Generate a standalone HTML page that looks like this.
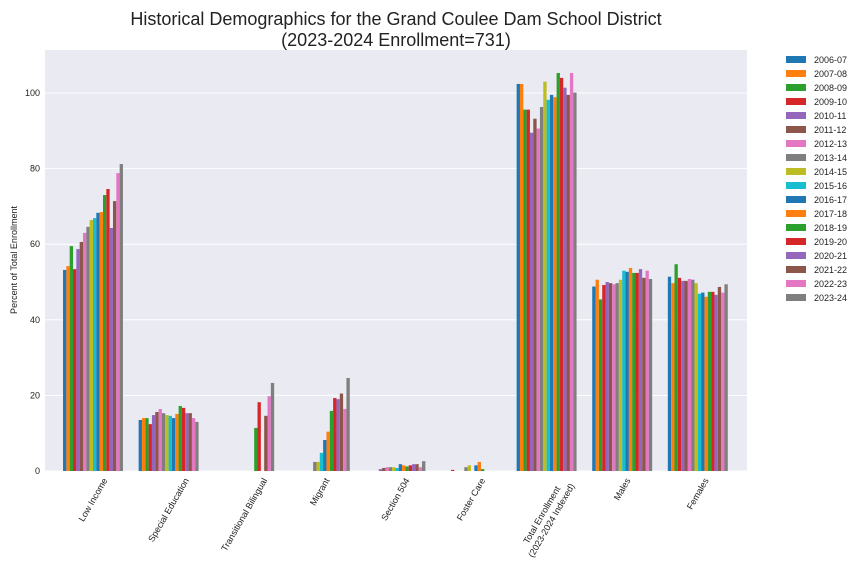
<!DOCTYPE html>
<html><head><meta charset="utf-8"><style>
body{margin:0;background:#fff;}
svg{display:block;font-family:"Liberation Sans",sans-serif;}
</style></head><body>
<svg id="chart" width="864" height="576" viewBox="0 0 864 576" xmlns="http://www.w3.org/2000/svg">
<text x="396" y="25" font-size="18" text-anchor="middle" fill="#222">Historical Demographics for the Grand Coulee Dam School District</text>
<text x="396" y="46" font-size="18" text-anchor="middle" fill="#222">(2023-2024 Enrollment=731)</text>
<rect x="45" y="50" width="702" height="421" fill="#eaeaf2"/>
<g id="grid"></g><g id="bars"></g><g id="xlabels"></g><g id="legend"></g>
<text transform="translate(17,260) rotate(-90)" font-size="9" text-anchor="middle" fill="#222">Percent of Total Enrollment</text>
</svg>
<script>
const categories=["Low Income","Special Education","Transitional Bilingual","Migrant","Section 504","Foster Care","Total Enrollment|(2023-2024 Indexed)","Males","Females"];
const years=["2006-07","2007-08","2008-09","2009-10","2010-11","2011-12","2012-13","2013-14","2014-15","2015-16","2016-17","2017-18","2018-19","2019-20","2020-21","2021-22","2022-23","2023-24"];
const lowIncome=[53.2,54.2,59.5,53.4,58.7,60.6,63.0,64.6,66.4,66.9,68.3,68.5,73.0,74.6,64.3,71.4,78.8,81.2];
const specialEd=[13.5,14.0,14.0,12.4,14.8,15.6,16.4,15.3,14.8,14.6,14.0,15.1,17.2,16.7,15.3,15.3,14.0,13.0];
const bilingual=[0,0,0,0,0,0,0,0,0,0,0,0,11.4,18.2,0,14.6,19.8,23.3];
const migrant=[0,0,0,0,0,0,0,2.4,2.4,4.8,8.2,10.4,15.9,19.3,19.0,20.5,16.4,24.6];
const section504=[0,0,0,0,0.5,0.8,1.0,1.0,1.0,0.8,1.8,1.5,1.2,1.5,1.8,1.8,1.0,2.6];
const fosterCare=[0,0,0,0.3,0,0,0,1.0,1.5,0,1.5,2.4,0.5,0,0,0,0,0];
const totalEnroll=[102.4,102.4,95.6,95.6,89.5,93.2,90.6,96.3,103.0,98.2,99.5,98.9,105.3,104.0,101.4,99.5,105.3,100.1];
const males=[48.8,50.6,45.4,49.2,50.0,49.7,49.4,49.7,50.6,53.0,52.7,53.7,52.4,52.4,53.4,51.1,53.0,50.8];
const females=[51.4,49.7,54.7,51.1,50.3,50.3,50.8,50.6,49.7,46.9,47.2,46.1,47.4,47.4,46.6,48.7,47.2,49.4];
const yTicks=[0,20,40,60,80,100];
const series=[lowIncome,specialEd,bilingual,migrant,section504,fosterCare,totalEnroll,males,females];
const palette=["#1f77b4","#ff7f0e","#2ca02c","#d62728","#9467bd","#8c564b","#e377c2","#7f7f7f","#bcbd22","#17becf"];
const NS="http://www.w3.org/2000/svg";
function el(t,a,p){const e=document.createElementNS(NS,t);for(const k in a)e.setAttribute(k,a[k]);p.appendChild(e);return e;}
const y=v=>471-v*3.78;
const xc=i=>93+i*75.6;
const bw=3.33;
const g=document.getElementById('grid');
yTicks.forEach(t=>{
 const l=el('line',{x1:45,x2:747,y1:y(t),y2:y(t),stroke:'#fff','stroke-width':1},g);
 
 
 const tx=el('text',{x:40,y:y(t)+3,'font-size':9,'text-anchor':'end',fill:'#222'},g);
 tx.textContent=t;
 
 
});
const b=document.getElementById('bars');
series.forEach((s,i)=>{s.forEach((v,j)=>{
 if(v<=0)return;
 const r=el('rect',{x:xc(i)+(j-9)*bw,y:y(v),width:bw,height:v*3.78,fill:palette[j%10]},b);
 
 
});});
const xl=document.getElementById('xlabels');
categories.forEach((c,i)=>{
 const parts=c.split('|');
 const t=el('text',{'font-size':9,'text-anchor':'middle',fill:'#222'},xl);
 
 
 const n=parts.length;
 parts.forEach((p,k)=>{const ts=el('tspan',{x:0,y:(k-(n-1)/2)*11+3},t);ts.textContent=p;});
 let L=0;t.querySelectorAll('tspan').forEach(ts=>{L=Math.max(L,ts.getComputedTextLength());});
 const h=n*11;
 const vy=L*0.866/2+h*0.5/2;
 t.setAttribute('transform',`translate(${xc(i)},${476+vy}) rotate(-60)`);
});
const lg=document.getElementById('legend');
years.forEach((yr,j)=>{
 const gy=60+j*14;
 const r=el('rect',{x:786,y:gy-4,width:20,height:7,fill:palette[j%10]},lg);
 
 
 const t=el('text',{x:814,y:gy+3,'font-size':9,fill:'#222'},lg);
 t.textContent=yr;
 
 
});
</script>
</body></html>
